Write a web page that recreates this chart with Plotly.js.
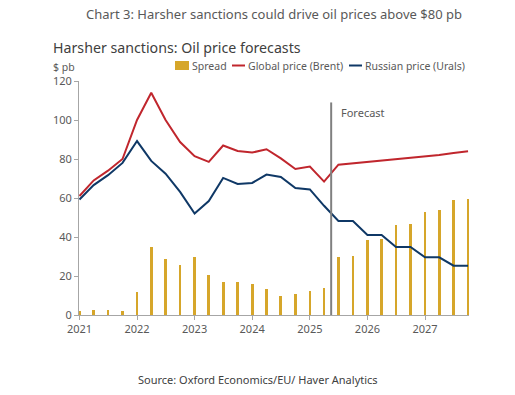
<!DOCTYPE html>
<html>
<head>
<meta charset="utf-8">
<script src="https://cdn.plot.ly/plotly-3.0.1.min.js"></script>
<style>html,body{margin:0;padding:0;background:#fff;}#chart{width:515px;height:395px;}</style>
</head>
<body>
<div id="chart"></div>
<script>
// Quarterly observation dates (2021Q1 .. 2027Q4)
const quarters = [
  "2021-01-01","2021-04-01","2021-07-01","2021-10-01",
  "2022-01-01","2022-04-01","2022-07-01","2022-10-01",
  "2023-01-01","2023-04-01","2023-07-01","2023-10-01",
  "2024-01-01","2024-04-01","2024-07-01","2024-10-01",
  "2025-01-01","2025-04-01","2025-07-01","2025-10-01",
  "2026-01-01","2026-04-01","2026-07-01","2026-10-01",
  "2027-01-01","2027-04-01","2027-07-01","2027-10-01"
];
const brent = [61, 69, 74, 80, 100, 114, 100, 88.7, 81.4, 78.5, 86.9, 84.1, 83.3, 85, 80.3, 74.9, 76.1, 68.4, 77.1, 77.8, 78.5, 79.2, 79.8, 80.5, 81.3, 82, 83.1, 84];
const urals = [59.2, 66.6, 71.7, 78, 89.2, 79, 72.5, 63.1, 52, 58.4, 70.3, 67.2, 67.7, 72, 70.8, 65.1, 64.4, 56, 48.2, 48.2, 41, 41, 34.9, 34.9, 29.6, 29.6, 25.3, 25.3];
const spread = [1.9, 2.6, 2.6, 2.2, 11.9, 35, 28.7, 25.9, 29.9, 20.5, 17.1, 17.1, 15.7, 13.1, 9.7, 10.6, 12.5, 13.7, 29.6, 30.4, 38.5, 39.1, 46.2, 46.8, 53, 53.7, 58.8, 59.7];
const yTicks = [0, 20, 40, 60, 80, 100, 120];
const xTickVals = ["2021-01-01","2022-01-01","2023-01-01","2024-01-01","2025-01-01","2026-01-01","2027-01-01"];
const xTickText = ["2021","2022","2023","2024","2025","2026","2027"];
const forecastStart = "2025-05-16";
const forecastTop = 109;

const FONT = "Noto Sans, Open Sans, sans-serif";
const GREY = "#595959";
const RED = "#C0262D";
const BLUE = "#0F3866";
const GOLD = "#D6A62A";

const traces = [
  {type: "bar", name: "Spread", x: quarters, y: spread, width: 1.5e9,
   marker: {color: GOLD}, hoverinfo: "x+y"},
  {type: "scatter", mode: "lines", name: "Global price (Brent)", x: quarters, y: brent,
   line: {color: RED, width: 2}},
  {type: "scatter", mode: "lines", name: "Russian price (Urals)", x: quarters, y: urals,
   line: {color: BLUE, width: 2}}
];

// custom compact legend (paper coordinates)
const legendItems = [
  {label: "Spread", color: GOLD, kind: "box", x0: 175, tx: 190},
  {label: "Global price (Brent)", color: RED, kind: "line", x0: 232, tx: 246},
  {label: "Russian price (Urals)", color: BLUE, kind: "line", x0: 349, tx: 363}
];
const W = 515, H = 395, ML = 79, MR = 46, MT = 81, MB = 80;
const px = v => (v - ML) / (W - ML - MR);
const py = v => (H - MB - v) / (H - MT - MB);

const shapes = [
  {type: "line", xref: "x", yref: "y", x0: forecastStart, x1: forecastStart, y0: 0, y1: forecastTop,
   line: {color: "#808080", width: 2}}
];
const annotations = [
  {text: "Harsher sanctions: Oil price forecasts", xref: "paper", yref: "paper",
   x: px(52), y: py(47), xanchor: "left", yanchor: "middle", borderpad: 0, showarrow: false,
   font: {family: FONT, size: 14.2, color: "#404040"}},
  {text: "$ pb", xref: "paper", yref: "paper", x: px(52), y: py(66.5), xanchor: "left", yanchor: "middle",
   borderpad: 0, showarrow: false, font: {family: FONT, size: 10.5, color: GREY}},
  {text: "Forecast", xref: "x", yref: "y", x: forecastStart, y: 104, xanchor: "left", yanchor: "middle",
   xshift: 8, showarrow: false, font: {family: FONT, size: 11, color: GREY}},
  {text: "Source: Oxford Economics/EU/ Haver Analytics", xref: "paper", yref: "paper",
   x: px(258), y: py(379), xanchor: "center", yanchor: "middle", showarrow: false,
   font: {family: FONT, size: 11, color: "#404040"}}
];
legendItems.forEach(it => {
  if (it.kind === "box") {
    shapes.push({type: "rect", xref: "paper", yref: "paper", x0: px(it.x0), x1: px(it.x0 + 14),
      y0: py(70), y1: py(61), fillcolor: it.color, line: {width: 0}});
  } else {
    shapes.push({type: "line", xref: "paper", yref: "paper", x0: px(it.x0), x1: px(it.x0 + 13),
      y0: py(65.5), y1: py(65.5), line: {color: it.color, width: 2}});
  }
  annotations.push({text: it.label, xref: "paper", yref: "paper", x: px(it.tx), y: py(65.5),
    xanchor: "left", yanchor: "middle", showarrow: false,
    font: {family: FONT, size: 10.5, color: GREY}});
});

const layout = {
  width: W, height: H,
  margin: {l: ML, r: MR, t: MT, b: MB},
  paper_bgcolor: "#fff", plot_bgcolor: "#fff",
  showlegend: false,
  bargap: 0,
  title: {text: "Chart 3: Harsher sanctions could drive oil prices above $80 pb",
    x: 0.5, xanchor: "center", y: 1 - 14 / H, yanchor: "middle", xref: "paper",
    font: {family: FONT, size: 13, color: GREY}},
  xaxis: {type: "date", range: ["2020-12-29", "2027-10-07"], tickvals: xTickVals, ticktext: xTickText,
    showgrid: false, zeroline: false, showline: true, linecolor: "#A6A6A6", linewidth: 1,
    ticks: "outside", ticklen: 4, tickcolor: "#A6A6A6",
    tickfont: {family: FONT, size: 11, color: GREY}},
  yaxis: {range: [0, 120], tickvals: yTicks, showgrid: false, zeroline: false,
    showline: true, linecolor: "#A6A6A6", linewidth: 1,
    ticks: "outside", ticklen: 4, tickcolor: "#A6A6A6",
    tickfont: {family: FONT, size: 11, color: GREY}},
  shapes: shapes,
  annotations: annotations
};
Plotly.newPlot("chart", traces, layout, {displayModeBar: false, staticPlot: true});
</script>
</body>
</html>
